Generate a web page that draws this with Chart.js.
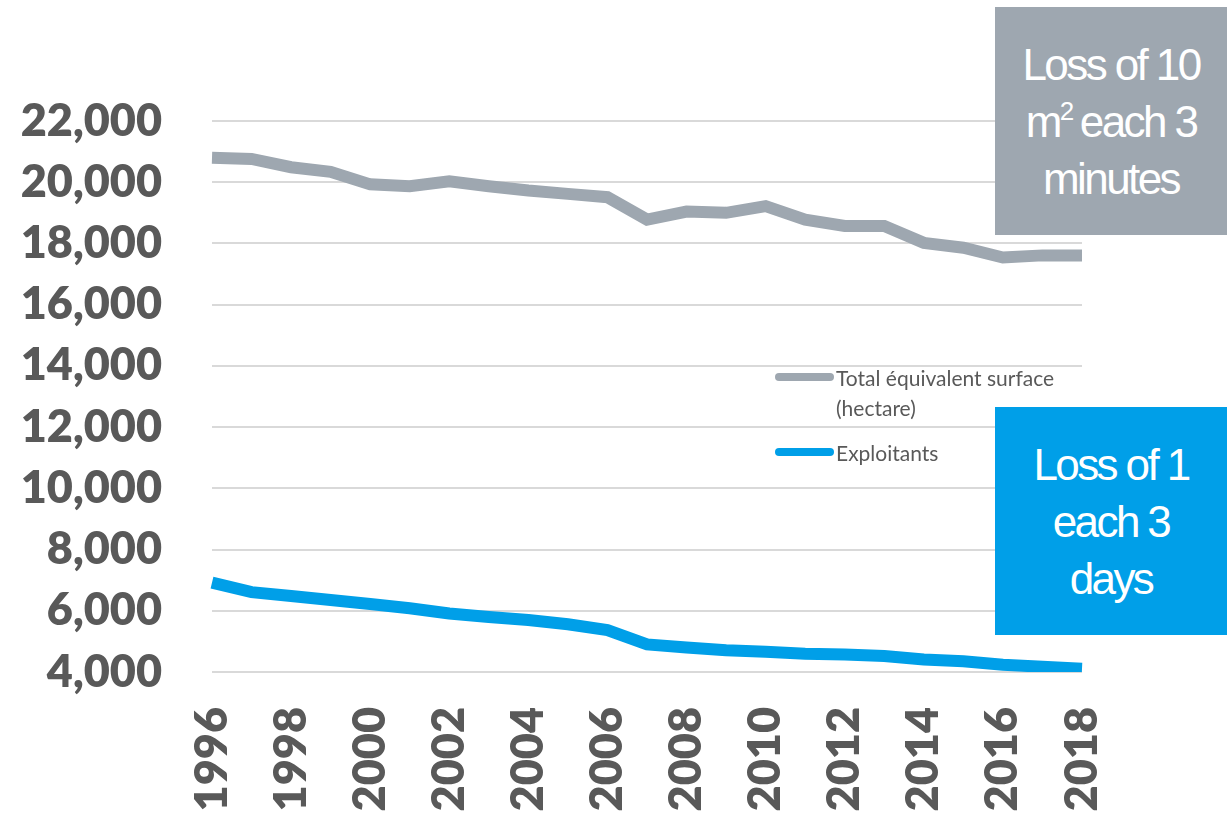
<!DOCTYPE html>
<html>
<head>
<meta charset="utf-8">
<script src="https://cdn.jsdelivr.net/npm/chart.js@4.4.0/dist/chart.umd.min.js"></script>
<style>
  html, body { margin: 0; padding: 0; background: #fff; }
  #wrap { position: relative; width: 1227px; height: 815px; overflow: hidden; }
  .note {
    position: absolute; left: 995px; width: 232px; height: 228px;
    display: flex; flex-direction: column; justify-content: center; align-items: center;
    color: #fff; font-family: "Liberation Sans", Arial, sans-serif; font-size: 44px;
    letter-spacing: -2.6px; line-height: 57px; text-align: center;
  }
  .note sup { font-size: 26px; line-height: 0; vertical-align: 17px; letter-spacing: 0; margin-right: -4px; }
  #noteSurface { top: 7px; background: #9ea7b0; }
  #noteFarmers { top: 407px; background: #009fe8; }
</style>
</head>
<body>
<div id="wrap">
  <canvas id="myChart" width="1227" height="815"></canvas>
  <div class="note" id="noteSurface"><div>Loss of 10</div><div>m<sup>2</sup> each 3</div><div>minutes</div></div>
  <div class="note" id="noteFarmers"><div>Loss of 1</div><div>each 3</div><div>days</div></div>
</div>
<script>

// data

var years = ["1996", "1997", "1998", "1999", "2000", "2001", "2002", "2003", "2004", "2005", "2006", "2007",
             "2008", "2009", "2010", "2011", "2012", "2013", "2014", "2015", "2016", "2017", "2018"];

var surfaceValues = [20800, 20760, 20490, 20340, 19930, 19870, 20030, 19870, 19730, 19620, 19510, 18780,
                     19040, 19000, 19220, 18780, 18570, 18570, 18020, 17860, 17540, 17610, 17610];

var farmerValues = [6920, 6610, 6480, 6350, 6220, 6080, 5910, 5800, 5700, 5560, 5370, 4900,
                    4800, 4710, 4660, 4600, 4570, 4520, 4410, 4350, 4240, 4170, 4110];

var seriesNames = ["Total équivalent surface\n(hectare)", "Exploitants"];
var seriesColors = ["#9ea7b0", "#009fe8"];

var yTicks = [4000, 6000, 8000, 10000, 12000, 14000, 16000, 18000, 20000, 22000];

var tickFont = { family: "Lato, 'Open Sans', sans-serif", size: 45, weight: 800 };


// legend drawn inside the plot

var insideLegend = {
  id: "insideLegend",
  afterDraw: function(chart) {
    var ctx = chart.ctx;
    var rows = [377, 452];
    ctx.save();
    ctx.font = "21px Lato, 'Open Sans', sans-serif";
    ctx.textBaseline = "middle";
    chart.data.datasets.forEach(function(ds, i) {
      var y = rows[i];
      ctx.strokeStyle = ds.borderColor;
      ctx.lineWidth = 8;
      ctx.lineCap = "round";
      ctx.beginPath();
      ctx.moveTo(779, y);
      ctx.lineTo(830, y);
      ctx.stroke();
      ctx.fillStyle = "#595959";
      ds.label.split("\n").forEach(function(line, k) {
        ctx.fillText(line, 836, y + 2 + k * 30);
      });
    });
    ctx.restore();
  }
};


new Chart("myChart", {

  type: "line",
  data: {
    labels: years,
    datasets: [{
      label: seriesNames[0],
      data: surfaceValues,
      borderColor: seriesColors[0],
      backgroundColor: seriesColors[0],
      borderWidth: 12,
      pointRadius: 0,
      tension: 0
    }, {
      label: seriesNames[1],
      data: farmerValues,
      borderColor: seriesColors[1],
      backgroundColor: seriesColors[1],
      borderWidth: 12,
      pointRadius: 0,
      tension: 0
    }]
  },
  options: {
    responsive: false,
    animation: false,
    devicePixelRatio: 1,
    layout: {
      padding: { top: 121, left: 12, right: 145, bottom: 0 }
    },
    plugins: {
      legend: { display: false },
      tooltip: { enabled: false }
    },
    scales: {
      x: {
        grid: { display: false },
        border: { display: false },
        afterFit: function(scale) { scale.height = 143; },
        ticks: {
          autoSkip: false,
          minRotation: 90,
          maxRotation: 90,
          padding: 27,
          color: "#595959",
          font: tickFont,
          callback: function(val, i) { return i % 2 === 0 ? years[i] : ""; }
        }
      },
      y: {
        min: yTicks[0],
        max: yTicks[yTicks.length - 1],
        afterFit: function(scale) { scale.width = 200; },
        afterBuildTicks: function(scale) {
          scale.ticks = yTicks.map(function(v) { return { value: v }; });
        },
        grid: { color: "#d9d9d9", lineWidth: 2, drawTicks: false },
        border: { display: false },
        ticks: {
          padding: 50,
          color: "#595959",
          font: tickFont,
          callback: function(v) { return v.toLocaleString("en-US"); }
        }
      }
    }
  },
  plugins: [insideLegend]

});

</script>
</body>
</html>
